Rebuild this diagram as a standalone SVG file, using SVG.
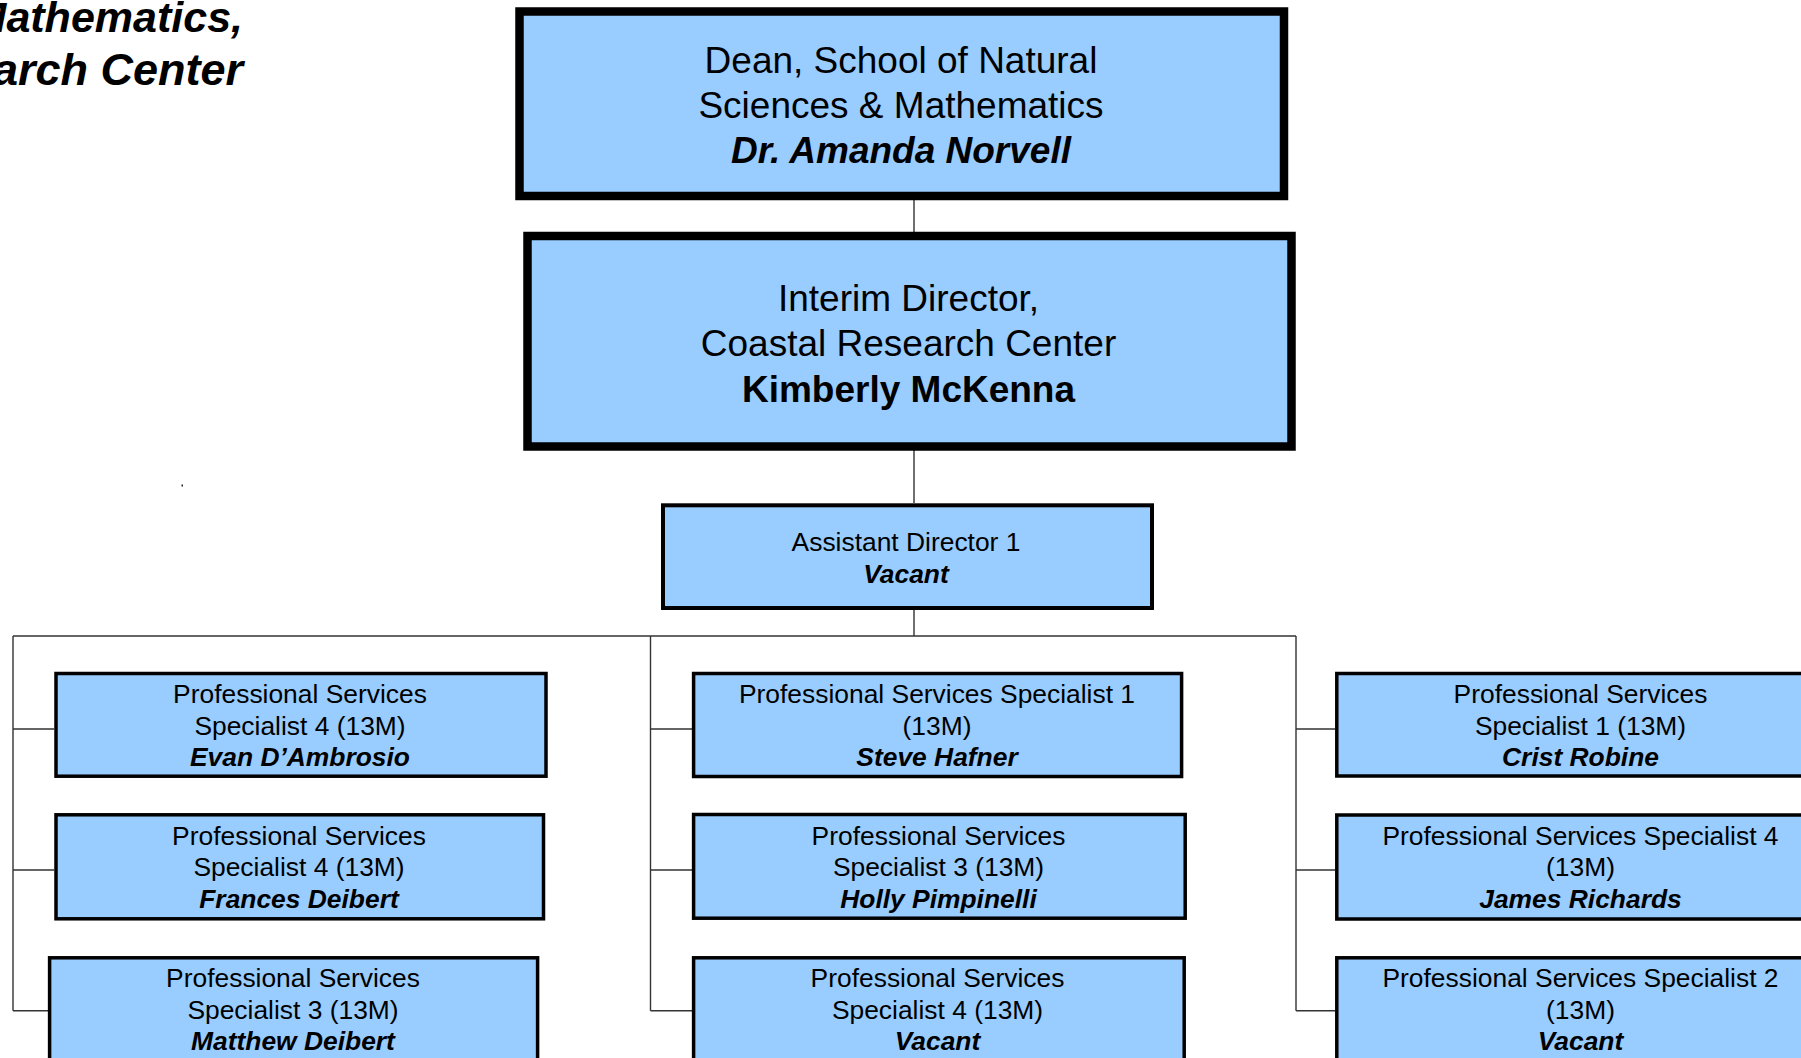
<svg xmlns="http://www.w3.org/2000/svg" width="1801" height="1058" viewBox="0 0 1801 1058">
<style>
.box{fill:#99CCFF;stroke:#000;}
.big{stroke-width:8.5;}
.mid{stroke-width:4;}
.sm{stroke-width:3.5;}
text{font-family:"Liberation Sans",Arial,sans-serif;fill:#000;text-anchor:middle;}
.t37{font-size:37px;}
.t26{font-size:26.4px;}
.bi{font-weight:bold;font-style:italic;}
.b{font-weight:bold;}
.conn{fill:none;stroke:#333;stroke-width:1.4;}
</style>
<rect x="0" y="0" width="1801" height="1058" fill="#fff"/>
<g id="title">
<text class="bi" x="243" y="32" style="font-size:43px;text-anchor:end">Mathematics,</text>
<text class="bi" x="243" y="85" style="font-size:45px;text-anchor:end">Research Center</text>
</g>
<rect x="181.5" y="484.5" width="1.5" height="2" fill="#222"/>
<g id="connectors" class="conn">
<path d="M914 200V232M914 450V503M914 610V636"/>
<path d="M13 636H1296"/>
<path d="M13 636V1010.7M13 729H54M13 870H54M13 1010.7H48"/>
<path d="M650.5 636V1010.7M650.5 729H692M650.5 870H692M650.5 1010.7H692"/>
<path d="M1296 636V1010.7M1296 729H1335M1296 870H1335M1296 1010.7H1335"/>
</g>
<g id="dean">
<rect class="box big" x="519.5" y="11.5" width="764.5" height="184.5"/>
<text class="t37" x="901" y="73">Dean, School of Natural</text>
<text class="t37" x="901" y="118">Sciences &amp; Mathematics</text>
<text class="t37 bi" x="901" y="162.5">Dr. Amanda Norvell</text>
</g>
<g id="interim">
<rect class="box big" x="527.5" y="236" width="764" height="210.5"/>
<text class="t37" x="908.5" y="311">Interim Director,</text>
<text class="t37" x="908.5" y="355.5">Coastal Research Center</text>
<text class="t37 b" x="908.5" y="401.5">Kimberly McKenna</text>
</g>
<g id="assistant">
<rect class="box mid" x="663" y="505.3" width="489" height="102.7"/>
<text class="t26" x="906" y="550.5">Assistant Director 1</text>
<text class="t26 bi" x="906" y="582.5">Vacant</text>
</g>
<g id="pss-evan">
<rect class="box sm" x="56" y="673.5" width="490" height="102.7"/>
<text class="t26" x="300" y="703">Professional Services</text>
<text class="t26" x="300" y="734.5">Specialist 4 (13M)</text>
<text class="t26 bi" x="300" y="766">Evan D’Ambrosio</text>
</g>
<g id="pss-frances">
<rect class="box sm" x="56" y="814.8" width="487.5" height="104"/>
<text class="t26" x="299" y="844.5">Professional Services</text>
<text class="t26" x="299" y="876">Specialist 4 (13M)</text>
<text class="t26 bi" x="299" y="907.5">Frances Deibert</text>
</g>
<g id="pss-matthew">
<rect class="box sm" x="49.6" y="957.8" width="488" height="110"/>
<text class="t26" x="293" y="987">Professional Services</text>
<text class="t26" x="293" y="1018.5">Specialist 3 (13M)</text>
<text class="t26 bi" x="293" y="1050">Matthew Deibert</text>
</g>
<g id="pss-steve">
<rect class="box sm" x="693.6" y="673.5" width="488" height="103"/>
<text class="t26" x="937" y="703">Professional Services Specialist 1</text>
<text class="t26" x="937" y="734.5">(13M)</text>
<text class="t26 bi" x="937" y="766">Steve Hafner</text>
</g>
<g id="pss-holly">
<rect class="box sm" x="693.6" y="814.5" width="491.6" height="103.7"/>
<text class="t26" x="938.5" y="844.5">Professional Services</text>
<text class="t26" x="938.5" y="876">Specialist 3 (13M)</text>
<text class="t26 bi" x="938.5" y="907.5">Holly Pimpinelli</text>
</g>
<g id="pss-vacant-mid">
<rect class="box sm" x="693.6" y="957.8" width="490.6" height="110"/>
<text class="t26" x="937.5" y="987">Professional Services</text>
<text class="t26" x="937.5" y="1018.5">Specialist 4 (13M)</text>
<text class="t26 bi" x="937.5" y="1050">Vacant</text>
</g>
<g id="pss-crist">
<rect class="box sm" x="1336.8" y="673.5" width="490" height="102.5"/>
<text class="t26" x="1580.5" y="703">Professional Services</text>
<text class="t26" x="1580.5" y="734.5">Specialist 1 (13M)</text>
<text class="t26 bi" x="1580.5" y="766">Crist Robine</text>
</g>
<g id="pss-james">
<rect class="box sm" x="1336.8" y="815" width="490" height="104"/>
<text class="t26" x="1580.5" y="844.5">Professional Services Specialist 4</text>
<text class="t26" x="1580.5" y="876">(13M)</text>
<text class="t26 bi" x="1580.5" y="907.5">James Richards</text>
</g>
<g id="pss-vacant-right">
<rect class="box sm" x="1336.8" y="957.8" width="490" height="110"/>
<text class="t26" x="1580.5" y="987">Professional Services Specialist 2</text>
<text class="t26" x="1580.5" y="1018.5">(13M)</text>
<text class="t26 bi" x="1580.5" y="1050">Vacant</text>
</g>
</svg>
